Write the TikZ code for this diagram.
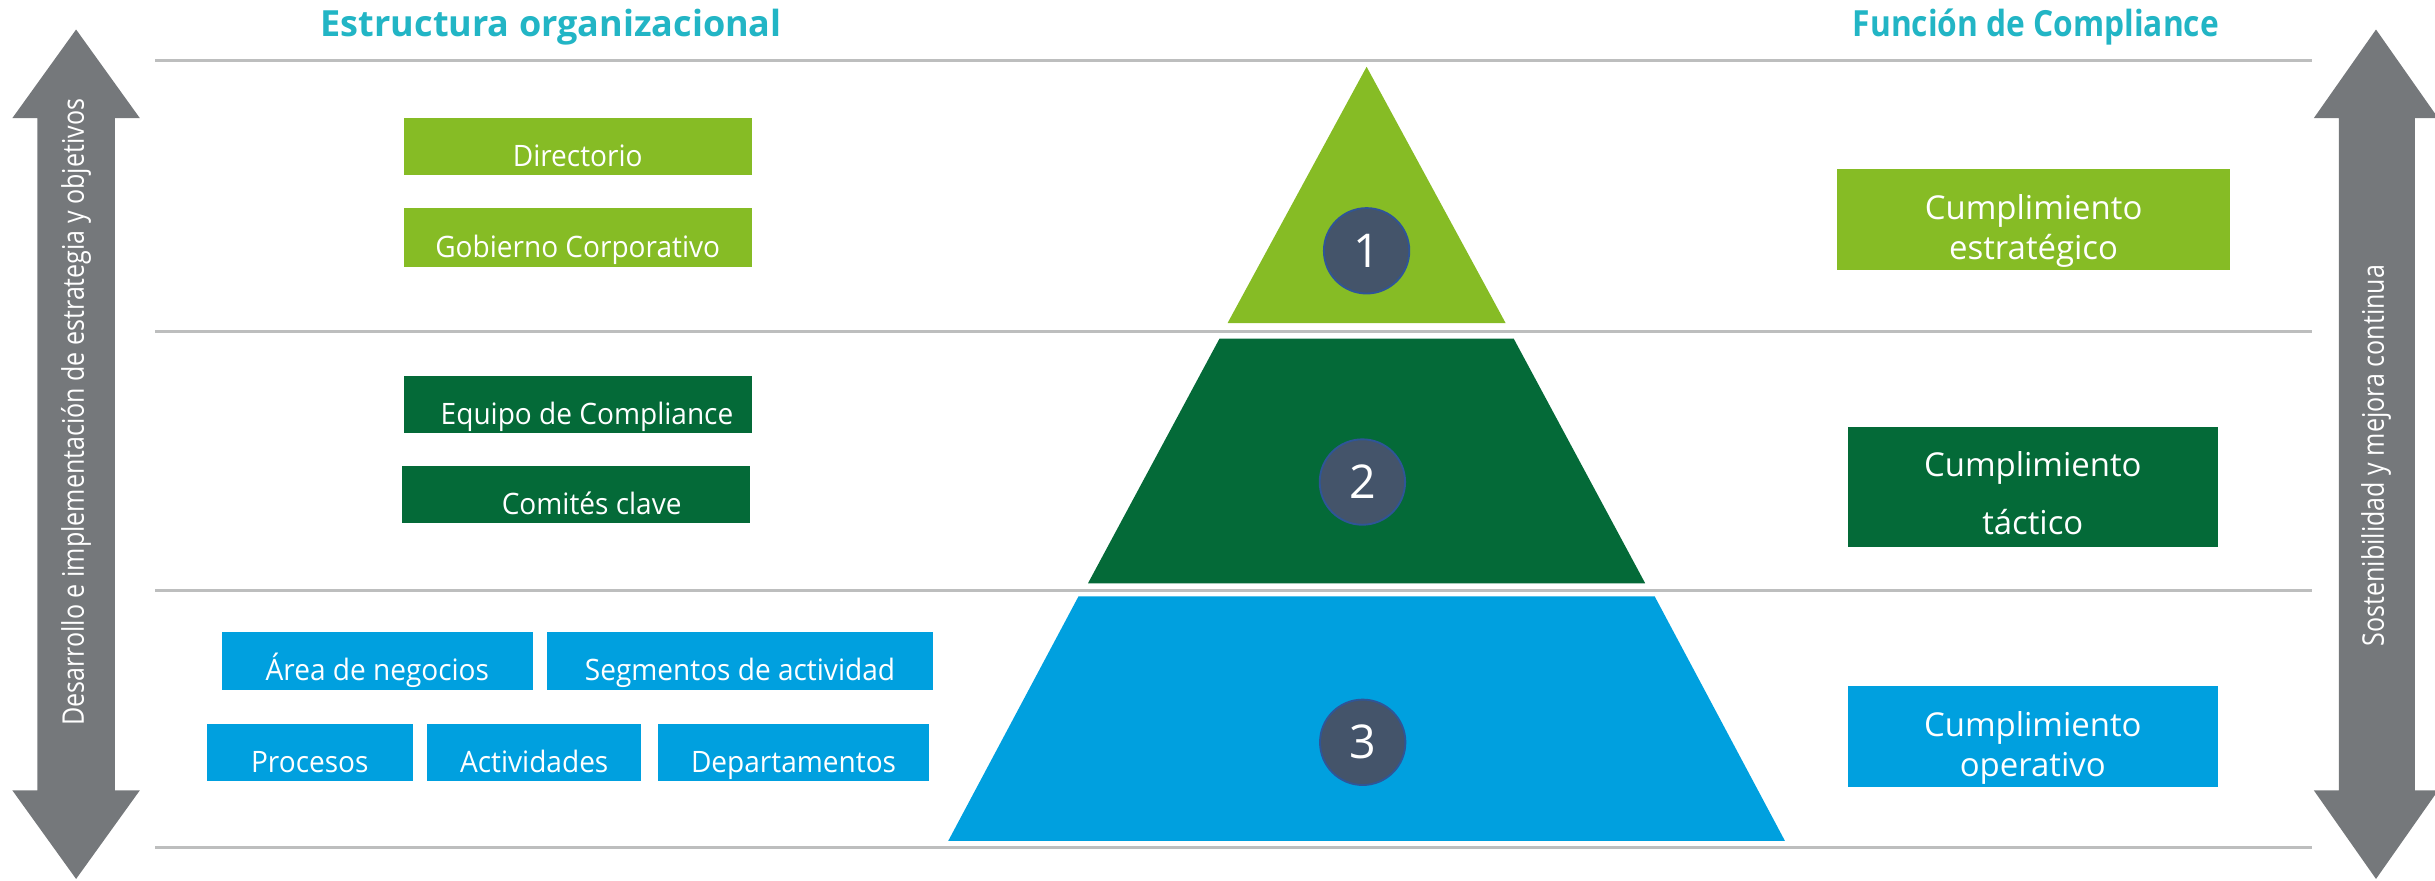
\documentclass[tikz,border=0pt]{standalone}
\usepackage{fontspec}
\setmainfont{Open Sans}
\newfontfamily\narrowfont{Open Sans}[FakeStretch=0.84]
\newfontfamily\titlenarrow{Open Sans}[FakeStretch=0.88]
\newfontfamily\boxfont{Open Sans}[FakeStretch=0.95]
\usepackage{tikz}
\usetikzlibrary{shapes}
\definecolor{lgreen}{HTML}{86BC25}
\definecolor{dgreen}{HTML}{046A38}
\definecolor{lblue}{HTML}{00A0DF}
\definecolor{titleteal}{HTML}{22B5C5}
\definecolor{arrowgray}{HTML}{75787B}
\definecolor{linegray}{HTML}{BDBEBE}
\definecolor{numfill}{HTML}{44546A}
\definecolor{numline}{HTML}{2F5597}
\tikzset{%
    orgbox/.style = {rectangle, inner sep=0pt, text=white, minimum height=18.5pt,
        text height=13pt, text depth=0pt, font=\boxfont\fontsize{9.5}{11}\selectfont},
    cumbox/.style = {rectangle, inner sep=0pt, text=white, align=center, text width=110pt,
        font=\fontsize{10.6}{12.7}\selectfont},
    levelnum/.style = {circle, fill=numfill, draw=numline, line width=0.6pt,
        minimum size=27.5pt, inner sep=0pt, text=white, font=\fontsize{15}{15}\selectfont},
    sidetext/.style = {rotate=90, text=white, font=\narrowfont\fontsize{9.6}{11}\selectfont},
    heading/.style = {text=titleteal, anchor=base, font=\bfseries\fontsize{11.6}{13}\selectfont},
    sepline/.style = {draw=linegray, line width=1pt},
}

\begin{document}
\begin{tikzpicture}[x=0.5pt, y=-0.5pt]
        \useasboundingbox (0,0) rectangle (1568,567);

        \draw[sepline] (100,39) -- (1489,39);
        \draw[sepline] (100,213.5) -- (1489,213.5);
        \draw[sepline] (100,380) -- (1489,380);
        \draw[sepline] (100,545.5) -- (1489,545.5);

        \fill[arrowgray] (49,19) -- (90,76) -- (74,76) -- (74,509) -- (90,509) -- (49,566)
            -- (8,509) -- (24,509) -- (24,76) -- (8,76) -- cycle;
        \fill[arrowgray] (1530,19) -- (1570,76) -- (1555,76) -- (1555,509) -- (1570,509)
            -- (1530,566) -- (1490,509) -- (1506,509) -- (1506,76) -- (1490,76) -- cycle;

        \fill[lgreen] (880,43) -- (969.5,208) -- (790.5,208) -- cycle;
        \fill[dgreen] (785.3,218) -- (974.7,218) -- (1059.4,375.6) -- (700.6,375.6) -- cycle;
        \fill[lblue] (694.5,384) -- (1065.5,384) -- (1149.4,541.5) -- (610.6,541.5) -- cycle;

        \draw
            node at (355,23.6) [heading] (estructura)
            {Estructura organizacional}
            node at (1311,23.6) [heading, font=\titlenarrow\bfseries\fontsize{11.6}{13}\selectfont] (funcion)
            {Función de Compliance}
            node at (49,265.5) [sidetext] (desarrollo)
            {Desarrollo e implementación de estrategia y objetivos}
            node at (1530,293.4) [sidetext] (sostenibilidad)
            {Sostenibilidad y mejora continua};

        \draw
            node at (372,94.5) [orgbox, fill=lgreen, minimum width=112pt] (directorio)
            {Directorio}
            node at (372,153) [orgbox, fill=lgreen, minimum width=112pt, minimum height=19pt] (gobierno)
            {Gobierno Corporativo}
            node at (372,260.5) [orgbox, fill=dgreen, minimum width=112pt] (equipo)
            {\hspace{6pt}Equipo de Compliance}
            node at (371,318.5) [orgbox, fill=dgreen, minimum width=112pt] (comites)
            {\hspace{10pt}Comités clave}
            node at (243,425.5) [orgbox, fill=lblue, minimum width=100pt] (area)
            {Área de negocios}
            node at (476.5,425.5) [orgbox, fill=lblue, minimum width=124.5pt] (segmentos)
            {Segmentos de actividad}
            node at (199.5,484.5) [orgbox, fill=lblue, minimum width=66.5pt] (procesos)
            {Procesos}
            node at (344,484.5) [orgbox, fill=lblue, minimum width=69pt] (actividades)
            {Actividades}
            node at (511,484.5) [orgbox, fill=lblue, minimum width=87pt] (departamentos)
            {Departamentos};

        \draw
            node at (880,161.5) [levelnum] (nivel1) {1}
            node at (877.3,310.4) [levelnum] (nivel2) {2}
            node at (877.5,478) [levelnum] (nivel3) {3};

        \draw
            node at (1309.5,141.5) [cumbox, fill=lgreen, minimum width=126.5pt, minimum height=32.5pt,
                text height=13pt, text depth=13pt] (estrategico)
            {Cumplimiento\\estratégico}
            node at (1309,313.5) [cumbox, fill=dgreen, minimum width=119pt, minimum height=38.5pt,
                text height=13pt, text depth=19.9pt] (tactico)
            {Cumplimiento\\[6.15pt]táctico}
            node at (1309,474.5) [cumbox, fill=lblue, minimum width=119pt, minimum height=32.5pt,
                text height=13pt, text depth=13pt] (operativo)
            {Cumplimiento\\operativo};
\end{tikzpicture}
\end{document}
